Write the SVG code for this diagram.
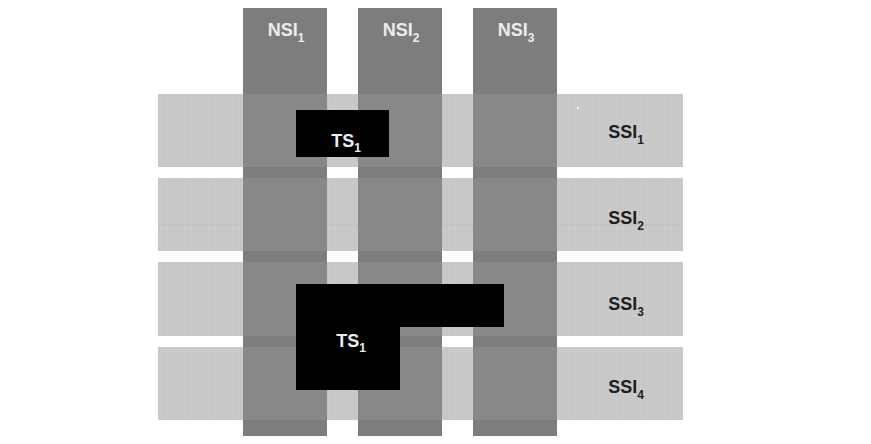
<svg xmlns="http://www.w3.org/2000/svg" width="871" height="444" viewBox="0 0 871 444">
  <style>
    .band { fill: url(#stripes); }
    .col { fill: #7d7d7d; }
    .over { fill: #888888; }
    .ts { fill: #000000; }
    .lbl { font-family: "Liberation Sans", Arial, sans-serif; font-weight: bold; font-size: 18px; }
    .light { fill: #ececec; }
    .dark { fill: #1e1e1e; }
    .sub { font-size: 12px; }
  </style>
  <defs>
    <pattern id="stripes" patternUnits="userSpaceOnUse" width="3" height="10">
      <rect width="3" height="10" fill="#cacaca"/>
      <rect width="1" height="10" fill="#c5c5c5"/>
    </pattern>
  </defs>
  <rect width="871" height="444" fill="#ffffff"/>

  <g id="bands">
    <g id="SSI1"><rect class="band" x="158" y="94" width="525" height="73"/></g>
    <g id="SSI2"><rect class="band" x="158" y="178" width="525" height="73"/>
      <line x1="158" y1="225" x2="683" y2="225" stroke="#b8b8b8" stroke-width="1" opacity="0.5"/></g>
    <g id="SSI3"><rect class="band" x="158" y="262" width="525" height="74"/></g>
    <g id="SSI4"><rect class="band" x="158" y="347" width="525" height="73"/></g>
  </g>

  <g id="columns">
    <g id="NSI1col"><rect class="col" x="243" y="8" width="84" height="428"/></g>
    <g id="NSI2col"><rect class="col" x="358" y="8" width="84" height="428"/></g>
    <g id="NSI3col"><rect class="col" x="473" y="8" width="84" height="428"/></g>
  </g>

  <g id="overlaps">
    <rect class="over" x="243" y="94" width="84" height="73"/>
    <rect class="over" x="358" y="94" width="84" height="73"/>
    <rect class="over" x="473" y="94" width="84" height="73"/>
    <rect class="over" x="243" y="178" width="84" height="73"/>
    <rect class="over" x="358" y="178" width="84" height="73"/>
    <rect class="over" x="473" y="178" width="84" height="73"/>
    <rect class="over" x="243" y="262" width="84" height="74"/>
    <rect class="over" x="358" y="262" width="84" height="74"/>
    <rect class="over" x="473" y="262" width="84" height="74"/>
    <rect class="over" x="243" y="347" width="84" height="73"/>
    <rect class="over" x="358" y="347" width="84" height="73"/>
    <rect class="over" x="473" y="347" width="84" height="73"/>
  </g>

  <rect x="577" y="107" width="2" height="2" fill="#ffffff"/>

  <g id="TS1-top">
    <rect class="ts" x="296" y="110" width="93" height="47"/>
    <text class="lbl light" x="346" y="147" text-anchor="middle">TS<tspan class="sub" dy="5">1</tspan></text>
  </g>

  <g id="TS1-L">
    <path class="ts" d="M296 284 H504 V327 H400 V390 H296 Z"/>
    <text class="lbl light" x="351" y="347" text-anchor="middle">TS<tspan class="sub" dy="5">1</tspan></text>
  </g>

  <g id="labels">
    <g id="NSI1"><text class="lbl light" x="286" y="36" text-anchor="middle">NSI<tspan class="sub" dy="6">1</tspan></text></g>
    <g id="NSI2"><text class="lbl light" x="401" y="36" text-anchor="middle">NSI<tspan class="sub" dy="6">2</tspan></text></g>
    <g id="NSI3"><text class="lbl light" x="516" y="36" text-anchor="middle">NSI<tspan class="sub" dy="6">3</tspan></text></g>
    <g id="SSI1lbl"><text class="lbl dark" x="626" y="138" text-anchor="middle">SSI<tspan class="sub" dy="6">1</tspan></text></g>
    <g id="SSI2lbl"><text class="lbl dark" x="626" y="224" text-anchor="middle">SSI<tspan class="sub" dy="6">2</tspan></text></g>
    <g id="SSI3lbl"><text class="lbl dark" x="626" y="310" text-anchor="middle">SSI<tspan class="sub" dy="6">3</tspan></text></g>
    <g id="SSI4lbl"><text class="lbl dark" x="626" y="393" text-anchor="middle">SSI<tspan class="sub" dy="6">4</tspan></text></g>
  </g>
</svg>
